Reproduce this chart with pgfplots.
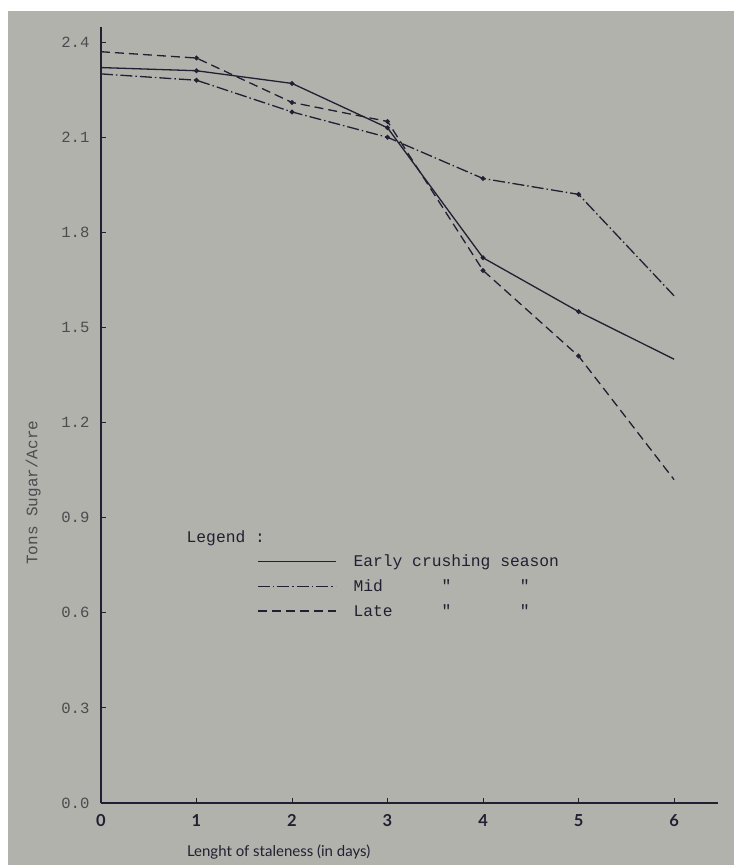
\documentclass[border=0pt]{standalone}
\usepackage{fontspec}
\setmonofont{Liberation Mono}
\setsansfont{Lato}
\usepackage{pgfplots}
\pgfplotsset{compat=1.18}
\definecolor{paper}{RGB}{178,178,173}
\definecolor{ink}{RGB}{32,32,50}
\definecolor{tickink}{RGB}{75,75,80}
\begin{document}
\begin{tikzpicture}
\useasboundingbox (-101pt,-62pt) rectangle (633pt,803pt);
\fill[white] (-101pt,-62pt) rectangle (633pt,803pt);
\fill[paper] (-93pt,-62pt) rectangle (633pt,792pt);
\begin{axis}[
  at={(0pt,0pt)}, anchor=south west,
  scale only axis, width=617pt, height=776pt,
  xmin=0, xmax=6.46, ymin=0, ymax=2.448,
  axis lines=left,
  axis line style={-, ink, line width=1.6pt},
  tick align=inside, major tick length=5pt,
  tick style={ink, line width=1pt},
  xtick={0,1,2,3,4,5,6},
  xticklabels={0,1,2,3,4,5,6},
  ytick={0,0.3,0.6,0.9,1.2,1.5,1.8,2.1,2.4},
  yticklabels={0.0,0.3,0.6,0.9,1.2,1.5,1.8,2.1,2.4},
  yticklabel style={font=\ttfamily\fontsize{15.6}{18}\selectfont, text=tickink, xshift=-8pt},
  xticklabel style={font=\sffamily\bfseries\fontsize{16.5}{18}\selectfont, text=ink, yshift=-8pt},
  xlabel={Lenght of staleness (in days)},
  xlabel style={font=\sffamily\fontsize{15}{17}\selectfont, text=ink, at={(axis description cs:0.288,-0.063)}, anchor=center},
  ylabel={Tons Sugar/Acre},
  ylabel style={font=\ttfamily\fontsize{16}{18}\selectfont, text=tickink, at={(axis description cs:-0.110,0.40)}, anchor=center, rotate=0},
  legend style={draw=none, fill=none, at={(axis cs:1.634,0.79)}, anchor=north west,
    font=\ttfamily\fontsize{16.3}{19}\selectfont, text=ink, row sep=7.5pt, inner sep=0pt,
    /tikz/every odd column/.append style={column sep=15pt}},
  legend cell align=left,
  legend image code/.code={\draw[#1,mark=none] (0pt,0pt) -- (78pt,0pt);},
  clip=false,
]
\addplot[ink, line width=1.3pt, mark=*, mark size=1.7pt, mark indices={2,3,4,5,6}]
  coordinates {(0,2.32)(1,2.31)(2,2.27)(3,2.13)(4,1.72)(5,1.55)(6,1.40)};
\addlegendentry{Early crushing season}
\addplot[ink, line width=1.3pt, dash pattern=on 12pt off 3pt on 1.5pt off 3pt, mark=*, mark size=1.7pt, mark options={solid}, mark indices={2,3,4,5,6}]
  coordinates {(0,2.30)(1,2.28)(2,2.18)(3,2.10)(4,1.97)(5,1.92)(6,1.60)};
\addlegendentry{Mid~~~~~~"~~~~~~~"}
\addplot[ink, line width=1.3pt, dash pattern=on 9pt off 5pt, mark=*, mark size=1.7pt, mark options={solid}, mark indices={2,3,4,5,6}]
  coordinates {(0,2.37)(1,2.35)(2,2.21)(3,2.15)(4,1.68)(5,1.41)(6,1.02)};
\addlegendentry{Late~~~~~"~~~~~~~"}
\node[anchor=west, font=\ttfamily\fontsize{16.3}{19}\selectfont, text=ink] at (axis cs:0.86,0.836) {Legend :};
\end{axis}
\end{tikzpicture}
\end{document}
